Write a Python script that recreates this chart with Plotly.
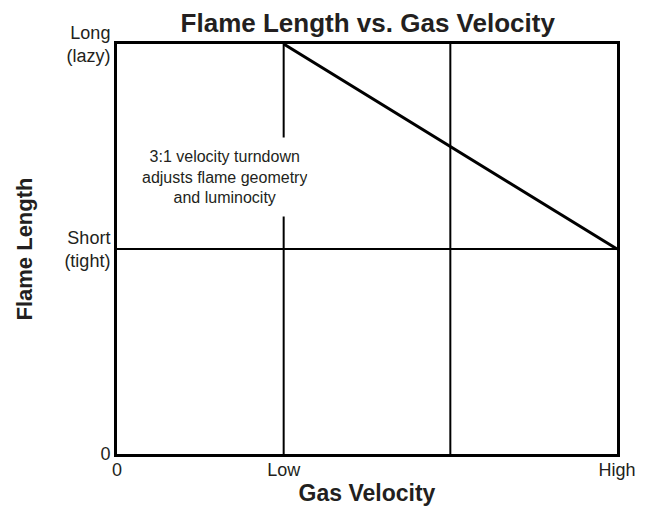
import plotly.graph_objects as go

# Data
x_tick_vals = [0, 1, 3]
x_tick_text = ["0", "Low", "High"]
y_tick_vals = [0, 1, 2]
y_tick_text = ["0", "Short<br>(tight)", "Long<br>(lazy)"]
line_x = [1, 3]
line_y = [2, 1]
grid_x = [1, 2]
grid_y = [1]
note_text = "3:1 velocity turndown<br>adjusts flame geometry<br>and luminocity"

FONT = "Liberation Sans, Arial, sans-serif"
TXT = "#231f20"

fig = go.Figure()

shapes = []
for gx in grid_x:
    shapes.append(dict(type="line", xref="x", yref="y", x0=gx, x1=gx, y0=0, y1=2,
                       line=dict(color="black", width=2), layer="below"))
for gy in grid_y:
    shapes.append(dict(type="line", xref="x", yref="y", x0=0, x1=3, y0=gy, y1=gy,
                       line=dict(color="black", width=2), layer="below"))

fig.add_trace(go.Scatter(x=line_x, y=line_y, mode="lines",
                         line=dict(color="black", width=3), showlegend=False,
                         hoverinfo="skip"))

fig.update_layout(
    width=647, height=504,
    margin=dict(l=109, r=38, t=36, b=58),
    paper_bgcolor="white", plot_bgcolor="white",
    font=dict(family=FONT, color=TXT, size=18),
    title=dict(text="<b>Flame Length vs. Gas Velocity</b>", x=0.556, xanchor="center",
               y=0.97, yanchor="middle", font=dict(size=26, color=TXT)),
    shapes=shapes,
    annotations=[dict(text=note_text, x=0.645, y=1.35, xref="x", yref="y",
                      showarrow=False, bgcolor="white", align="center",
                      height=72, borderpad=3, valign="middle",
                      font=dict(size=16, color=TXT))],
)

fig.update_xaxes(range=[0, 3], tickvals=x_tick_vals, ticktext=x_tick_text,
                 showgrid=False, zeroline=False, showline=True, linecolor="black",
                 linewidth=3, mirror=True, ticks="", ticklen=0, ticklabelstandoff=-3,
                 title=dict(text="<b>Gas Velocity</b>", font=dict(size=23), standoff=5))
fig.update_yaxes(range=[0, 2], tickvals=y_tick_vals, ticktext=y_tick_text,
                 showgrid=False, zeroline=False, showline=True, linecolor="black",
                 linewidth=3, mirror=True, ticks="", ticklen=0,
                 title=dict(text="<b>Flame Length</b>", font=dict(size=22), standoff=26))

fig.write_html("out.html")
